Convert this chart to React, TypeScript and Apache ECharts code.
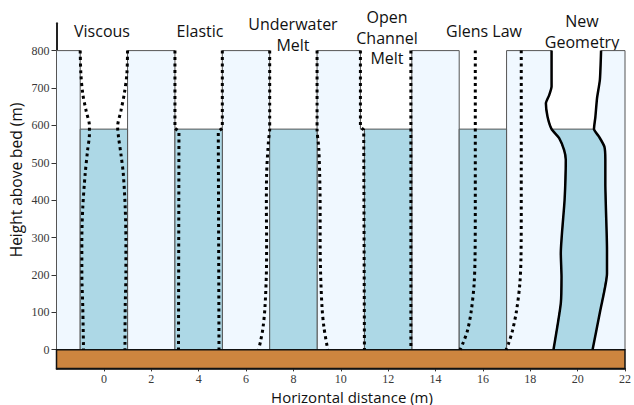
import { useEffect, useRef } from "react";
import * as echarts from "echarts";

// Vertical extents (m)
const ICE_TOP = 800;
const WATER_LEVEL = 590;
const BED_BOTTOM = -50;
const X_MIN = -2;
const X_MAX = 22;
const Y_MAX = 873;

const xTickValues = [0, 2, 4, 6, 8, 10, 12, 14, 16, 18, 20, 22];
const yTickValues = [0, 100, 200, 300, 400, 500, 600, 700, 800];

// Undeformed ice blocks and water-filled channels, [left, right] in m
const iceColumns: [number, number][] = [[-2, -1], [1, 3], [5, 7], [9, 11], [13, 15]];
const waterChannels: [number, number][] = [[-1, 1], [3, 5], [7, 9], [11, 13], [15, 17]];
const newGeometryIceLeft = 17;
const newGeometryIceRight = 22;

// Deformed wall profiles, [x (m), height (m)]
const viscousLeft = [[-1, 800], [-0.97, 737], [-0.89, 684], [-0.75, 639], [-0.61, 599], [-0.61, 577], [-0.69, 532], [-0.79, 470], [-0.89, 381], [-0.93, 292], [-0.93, 203], [-0.89, 113], [-0.86, 0]];
const viscousRight = [[1, 800], [0.97, 737], [0.86, 684], [0.72, 639], [0.58, 596], [0.62, 568], [0.72, 523], [0.82, 470], [0.9, 381], [0.93, 292], [0.93, 203], [0.9, 113], [0.89, 0]];
const elasticLeft = [[3, 800], [3, 592], [3.17, 584], [3.15, 0]];
const elasticRight = [[5, 800], [5, 592], [4.83, 584], [4.86, 0]];
const underwaterLeft = [[7, 800], [7, 590], [6.95, 559], [6.87, 470], [6.86, 381], [6.87, 292], [6.86, 203], [6.8, 113], [6.72, 60], [6.62, 24], [6.53, 0]];
const underwaterRight = [[9, 800], [9, 590], [9.07, 541], [9.11, 470], [9.13, 381], [9.13, 292], [9.15, 203], [9.21, 113], [9.29, 60], [9.45, 0]];
const openChannelLeft = [[10.83, 800], [10.83, 596], [10.97, 588], [11, 0]];
const openChannelRight = [[12.96, 800], [12.96, 0]];
const glensLeft = [[15.68, 800], [15.68, 400], [15.67, 250], [15.63, 176], [15.51, 104], [15.35, 51], [15.15, 16], [15.04, 0]];
const glensRight = [[17.62, 800], [17.62, 400], [17.61, 250], [17.56, 176], [17.42, 104], [17.25, 51], [17.08, 16], [16.98, 0]];
const newGeometryLeft = [[18.9, 800], [18.9, 704], [18.8, 681], [18.66, 659], [18.73, 623], [18.9, 590], [19.22, 566], [19.43, 534], [19.5, 508], [19.45, 401], [19.29, 258], [19.32, 195], [19.29, 124], [18.98, 0]];
const newGeometryRight = [[20.99, 800], [20.94, 722], [20.82, 673], [20.75, 623], [20.69, 590], [20.9, 570], [21.13, 543], [21.17, 508], [21.17, 445], [21.24, 267], [21.24, 204], [20.96, 106], [20.63, 0]];

const panelTitles = [
  { lines: ["Viscous"], x: 102, y: 31 },
  { lines: ["Elastic"], x: 200, y: 31 },
  { lines: ["Underwater", "Melt"], x: 293, y: 24 },
  { lines: ["Open", "Channel", "Melt"], x: 387, y: 17 },
  { lines: ["Glens Law"], x: 484, y: 31 },
  { lines: ["New", "Geometry"], x: 582, y: 21 },
];

type Pt = number[];

const rectPoly = (x0: number, x1: number, y0: number, y1: number): Pt[] => [
  [x0, y0], [x0, y1], [x1, y1], [x1, y0],
];

// Ice blocks; the face beside the Open Channel Melt channel is cut back above the water line
const iceShapes: Pt[][] = [
  ...iceColumns.map(([a, b]) =>
    b === openChannelLeft[openChannelLeft.length - 1][0]
      ? [[a, 0], [a, ICE_TOP], [openChannelLeft[0][0], ICE_TOP], [openChannelLeft[0][0], WATER_LEVEL], [b, WATER_LEVEL], [b, 0]]
      : rectPoly(a, b, 0, ICE_TOP)
  ),
  [[newGeometryIceLeft, 0], [newGeometryIceLeft, ICE_TOP], ...newGeometryLeft],
  [...newGeometryRight, [newGeometryIceRight, 0], [newGeometryIceRight, ICE_TOP]],
];

const waterShapes: Pt[][] = [
  ...waterChannels.map(([a, b]) => rectPoly(a, b, 0, WATER_LEVEL)),
  [
    ...newGeometryLeft.filter((p) => p[1] <= WATER_LEVEL),
    ...newGeometryRight.filter((p) => p[1] <= WATER_LEVEL).reverse(),
  ],
];

const bedShape: Pt[][] = [rectPoly(X_MIN, X_MAX, BED_BOTTOM, 0)];

function polygonSeries(shapes: Pt[][], fill: string, stroke: string, lineWidth: number) {
  return {
    type: "custom",
    coordinateSystem: "cartesian2d",
    data: shapes.map((s) => s[0]),
    encode: { x: 0, y: 1 },
    silent: true,
    renderItem: (params: any, api: any) => ({
      type: "polygon",
      shape: { points: shapes[params.dataIndex].map((p) => api.coord(p)) },
      style: { fill, stroke, lineWidth },
    }),
  };
}

function profileSeries(points: Pt[], smooth: number | boolean, solid = false) {
  return {
    type: "line",
    data: points,
    symbol: "none",
    smooth,
    silent: true,
    z: 5,
    lineStyle: solid
      ? { color: "#000", width: 2.5, type: "solid" }
      : { color: "#000", width: 3, type: [3, 3.5] },
  };
}

const tickFont = { fontFamily: "'Liberation Serif', serif", fontSize: 12, color: "#383838" };
const sansFont = "'Open Sans', 'Noto Sans', sans-serif";

export default function App() {
  const ref = useRef<HTMLDivElement>(null);

  useEffect(() => {
    if (!ref.current) return;
    const chart = echarts.init(ref.current, undefined, { renderer: "svg" });

    const titleTexts: any[] = [];
    panelTitles.forEach((t) => {
      t.lines.forEach((line, i) => {
        titleTexts.push({
          type: "text",
          x: t.x,
          y: t.y + i * 20.5,
          silent: true,
          style: {
            text: line,
            font: `16px ${sansFont}`,
            fill: "#111",
            align: "center",
            verticalAlign: "middle",
          },
        });
      });
    });

    chart.setOption({
      animation: false,
      backgroundColor: "#fff",
      grid: { left: 56.5, right: 4.5, top: 23.3, bottom: 36.6 },
      xAxis: {
        type: "value",
        min: X_MIN,
        max: X_MAX,
        interval: 2,
        axisLine: { show: true, onZero: false, lineStyle: { color: "#111", width: 1.5 } },
        axisTick: { show: true, length: 3, customValues: xTickValues, lineStyle: { color: "#333" } },
        axisLabel: { customValues: xTickValues, margin: 5, ...tickFont },
        splitLine: { show: false },
      },
      yAxis: {
        type: "value",
        min: BED_BOTTOM,
        max: Y_MAX,
        axisLine: { show: true, onZero: false, lineStyle: { color: "#222", width: 2 } },
        axisTick: { show: true, length: 5, customValues: yTickValues, lineStyle: { color: "#333" } },
        axisLabel: { customValues: yTickValues, margin: 7, ...tickFont },
        splitLine: { show: false },
      },
      graphic: [
        ...titleTexts,
        {
          type: "text",
          x: 352,
          y: 396.5,
          silent: true,
          style: {
            text: "Horizontal distance (m)",
            font: `15px ${sansFont}`,
            fill: "#111",
            align: "center",
            verticalAlign: "middle",
          },
        },
        {
          type: "text",
          x: 16,
          y: 180,
          rotation: Math.PI / 2,
          silent: true,
          style: {
            text: "Height above bed (m)",
            font: `15.5px ${sansFont}`,
            fill: "#111",
            align: "center",
            verticalAlign: "middle",
          },
        },
      ],
      series: [
        polygonSeries(iceShapes, "#F0F8FF", "#555", 1),
        polygonSeries(waterShapes, "#ADD8E6", "#555", 1),
        polygonSeries(bedShape, "#CD853F", "#111", 1.5),
        profileSeries(viscousLeft, 0.3),
        profileSeries(viscousRight, 0.3),
        profileSeries(elasticLeft, false),
        profileSeries(elasticRight, false),
        profileSeries(underwaterLeft, 0.3),
        profileSeries(underwaterRight, 0.3),
        profileSeries(openChannelLeft, false),
        profileSeries(openChannelRight, false),
        profileSeries(glensLeft, 0.3),
        profileSeries(glensRight, 0.3),
        profileSeries(newGeometryLeft, 0.2, true),
        profileSeries(newGeometryRight, 0.2, true),
      ],
    });

    return () => chart.dispose();
  }, []);

  return (
    <div
      ref={ref}
      style={{ position: "fixed", left: 0, top: 0, width: 634, height: 405 }}
    />
  );
}
